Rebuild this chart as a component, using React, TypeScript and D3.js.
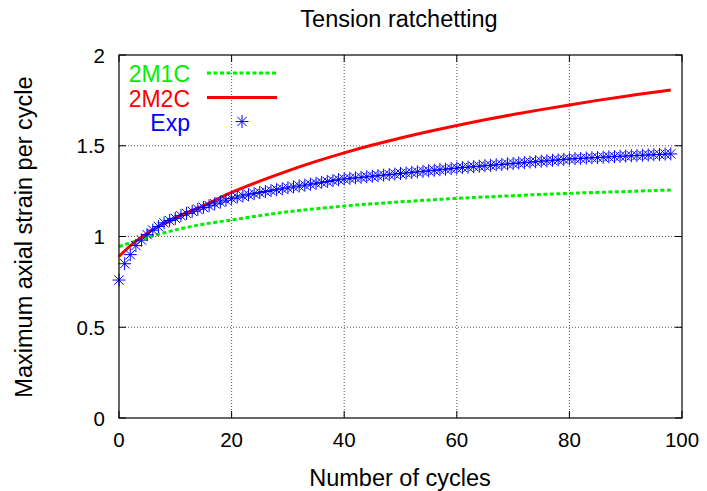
import React from "react";
import * as d3 from "d3";

const xTicks = [0, 20, 40, 60, 80, 100];
const yTicks = [0, 0.5, 1, 1.5, 2];
const yTickLabels = ["0", "0.5", "1", "1.5", "2"];

const modelCycles = [0, 1, 2, 3, 4, 5, 6, 8, 10, 12, 15, 20, 25, 30, 35, 40, 45, 50, 55, 60, 65, 70, 75, 80, 85, 90, 95, 98];
const m1c = [0.944, 0.955, 0.965, 0.975, 0.985, 0.994, 1.003, 1.02, 1.036, 1.05, 1.068, 1.091, 1.115, 1.136, 1.153, 1.168, 1.18, 1.191, 1.201, 1.21, 1.218, 1.225, 1.232, 1.238, 1.243, 1.248, 1.253, 1.256];
const m2c = [0.89, 0.92, 0.948, 0.973, 0.996, 1.017, 1.037, 1.072, 1.102, 1.13, 1.17, 1.243, 1.305, 1.362, 1.414, 1.461, 1.504, 1.543, 1.579, 1.612, 1.643, 1.672, 1.699, 1.725, 1.75, 1.773, 1.795, 1.807];

const expValues = [
  0.76, 0.85, 0.9, 0.95, 0.98, 1.01, 1.035, 1.055, 1.075, 1.088,
  1.1, 1.115, 1.127, 1.139, 1.15, 1.16, 1.17, 1.18, 1.19, 1.2,
  1.21, 1.217, 1.224, 1.23, 1.236, 1.242, 1.248, 1.253, 1.258, 1.263,
  1.268, 1.273, 1.278, 1.283, 1.288, 1.293, 1.298, 1.303, 1.308, 1.313,
  1.317, 1.32, 1.323, 1.326, 1.329, 1.332, 1.335, 1.338, 1.341, 1.344,
  1.347, 1.35, 1.353, 1.356, 1.359, 1.362, 1.365, 1.368, 1.371, 1.374,
  1.377, 1.38, 1.382, 1.385, 1.387, 1.39, 1.392, 1.395, 1.397, 1.4,
  1.402, 1.405, 1.407, 1.41, 1.412, 1.415, 1.417, 1.42, 1.422, 1.425,
  1.427, 1.429, 1.43, 1.432, 1.434, 1.435, 1.437, 1.439, 1.44, 1.442,
  1.443, 1.445, 1.446, 1.448, 1.449, 1.451, 1.452, 1.454, 1.455,
];

const FONT = "'Liberation Sans', Arial, Helvetica, sans-serif";

function Star({ x, y, r }: { x: number; y: number; r: number }) {
  const d = r * 0.72;
  return (
    <g stroke="#0000ff" strokeWidth={1} fill="none">
      <line x1={x - r} y1={y} x2={x + r} y2={y} />
      <line x1={x} y1={y - r} x2={x} y2={y + r} />
      <line x1={x - d} y1={y - d} x2={x + d} y2={y + d} />
      <line x1={x - d} y1={y + d} x2={x + d} y2={y - d} />
    </g>
  );
}

export default function App() {
  const W = 707, H = 491;
  const L = 119, R = 682, T = 55, B = 418;
  const x = d3.scaleLinear().domain([0, 100]).range([L, R]);
  const y = d3.scaleLinear().domain([0, 2]).range([B, T]);

  const line = d3
    .line<[number, number]>()
    .x((d) => x(d[0]))
    .y((d) => y(d[1]))
    .curve(d3.curveCatmullRom.alpha(0.5));

  const m1cPath = line(modelCycles.map((c, i) => [c, m1c[i]]) as [number, number][]) || "";
  const m2cPath = line(modelCycles.map((c, i) => [c, m2c[i]]) as [number, number][]) || "";

  return (
    <svg width={W} height={H} style={{ position: "absolute", left: 0, top: 0, background: "#fff" }} fontFamily={FONT}>
      <rect x={0} y={0} width={W} height={H} fill="#fff" />
      {xTicks.slice(1, -1).map((t) => (
        <line key={"gx" + t} x1={x(t)} x2={x(t)} y1={T} y2={B} stroke="#555" strokeWidth={1} strokeDasharray="1,2" />
      ))}
      {yTicks.slice(1, -1).map((t) => (
        <line key={"gy" + t} x1={L} x2={R} y1={y(t)} y2={y(t)} stroke="#555" strokeWidth={1} strokeDasharray="1,2" />
      ))}
      {xTicks.map((t) => (
        <g key={"tx" + t} stroke="#000" strokeWidth={1}>
          <line x1={x(t)} x2={x(t)} y1={B} y2={B - 7} />
          <line x1={x(t)} x2={x(t)} y1={T} y2={T + 7} />
        </g>
      ))}
      {yTicks.map((t) => (
        <g key={"ty" + t} stroke="#000" strokeWidth={1}>
          <line x1={L} x2={L + 7} y1={y(t)} y2={y(t)} />
          <line x1={R} x2={R - 7} y1={y(t)} y2={y(t)} />
        </g>
      ))}
      <path d={m1cPath} fill="none" stroke="#00ee00" strokeWidth={3} strokeDasharray="4,2.5" />
      <path d={m2cPath} fill="none" stroke="#ff0000" strokeWidth={3} />
      {expValues.map((v, i) => (
        <Star key={"e" + i} x={x(i)} y={y(v)} r={6.5} />
      ))}
      <rect x={L} y={T} width={R - L} height={B - T} fill="none" stroke="#000" strokeWidth={1.2} />
      {xTicks.map((t) => (
        <text key={"lx" + t} x={x(t)} y={447} textAnchor="middle" fontSize={20.5} fill="#000">
          {t}
        </text>
      ))}
      {yTicks.map((t, i) => (
        <text key={"ly" + t} x={105} y={y(t) + 7.5} textAnchor="end" fontSize={20.5} fill="#000">
          {yTickLabels[i]}
        </text>
      ))}
      <text x={399} y={27} textAnchor="middle" fontSize={23.5} fill="#000">Tension ratchetting</text>
      <text x={400} y={486} textAnchor="middle" fontSize={23.5} fill="#000">Number of cycles</text>
      <text transform={`translate(32,237) rotate(-90)`} textAnchor="middle" fontSize={23.5} fill="#000">
        Maximum axial strain per cycle
      </text>
      <text x={190} y={82} textAnchor="end" fontSize={23} fill="#00ee00">2M1C</text>
      <line x1={207} x2={277} y1={73} y2={73} stroke="#00ee00" strokeWidth={3} strokeDasharray="4,2.5" />
      <text x={190} y={106.5} textAnchor="end" fontSize={23} fill="#ff0000">2M2C</text>
      <line x1={207} x2={277} y1={97.5} y2={97.5} stroke="#ff0000" strokeWidth={3} />
      <text x={190} y={131} textAnchor="end" fontSize={23} fill="#0000ff">Exp</text>
      <Star x={242} y={121.5} r={6.5} />
    </svg>
  );
}
